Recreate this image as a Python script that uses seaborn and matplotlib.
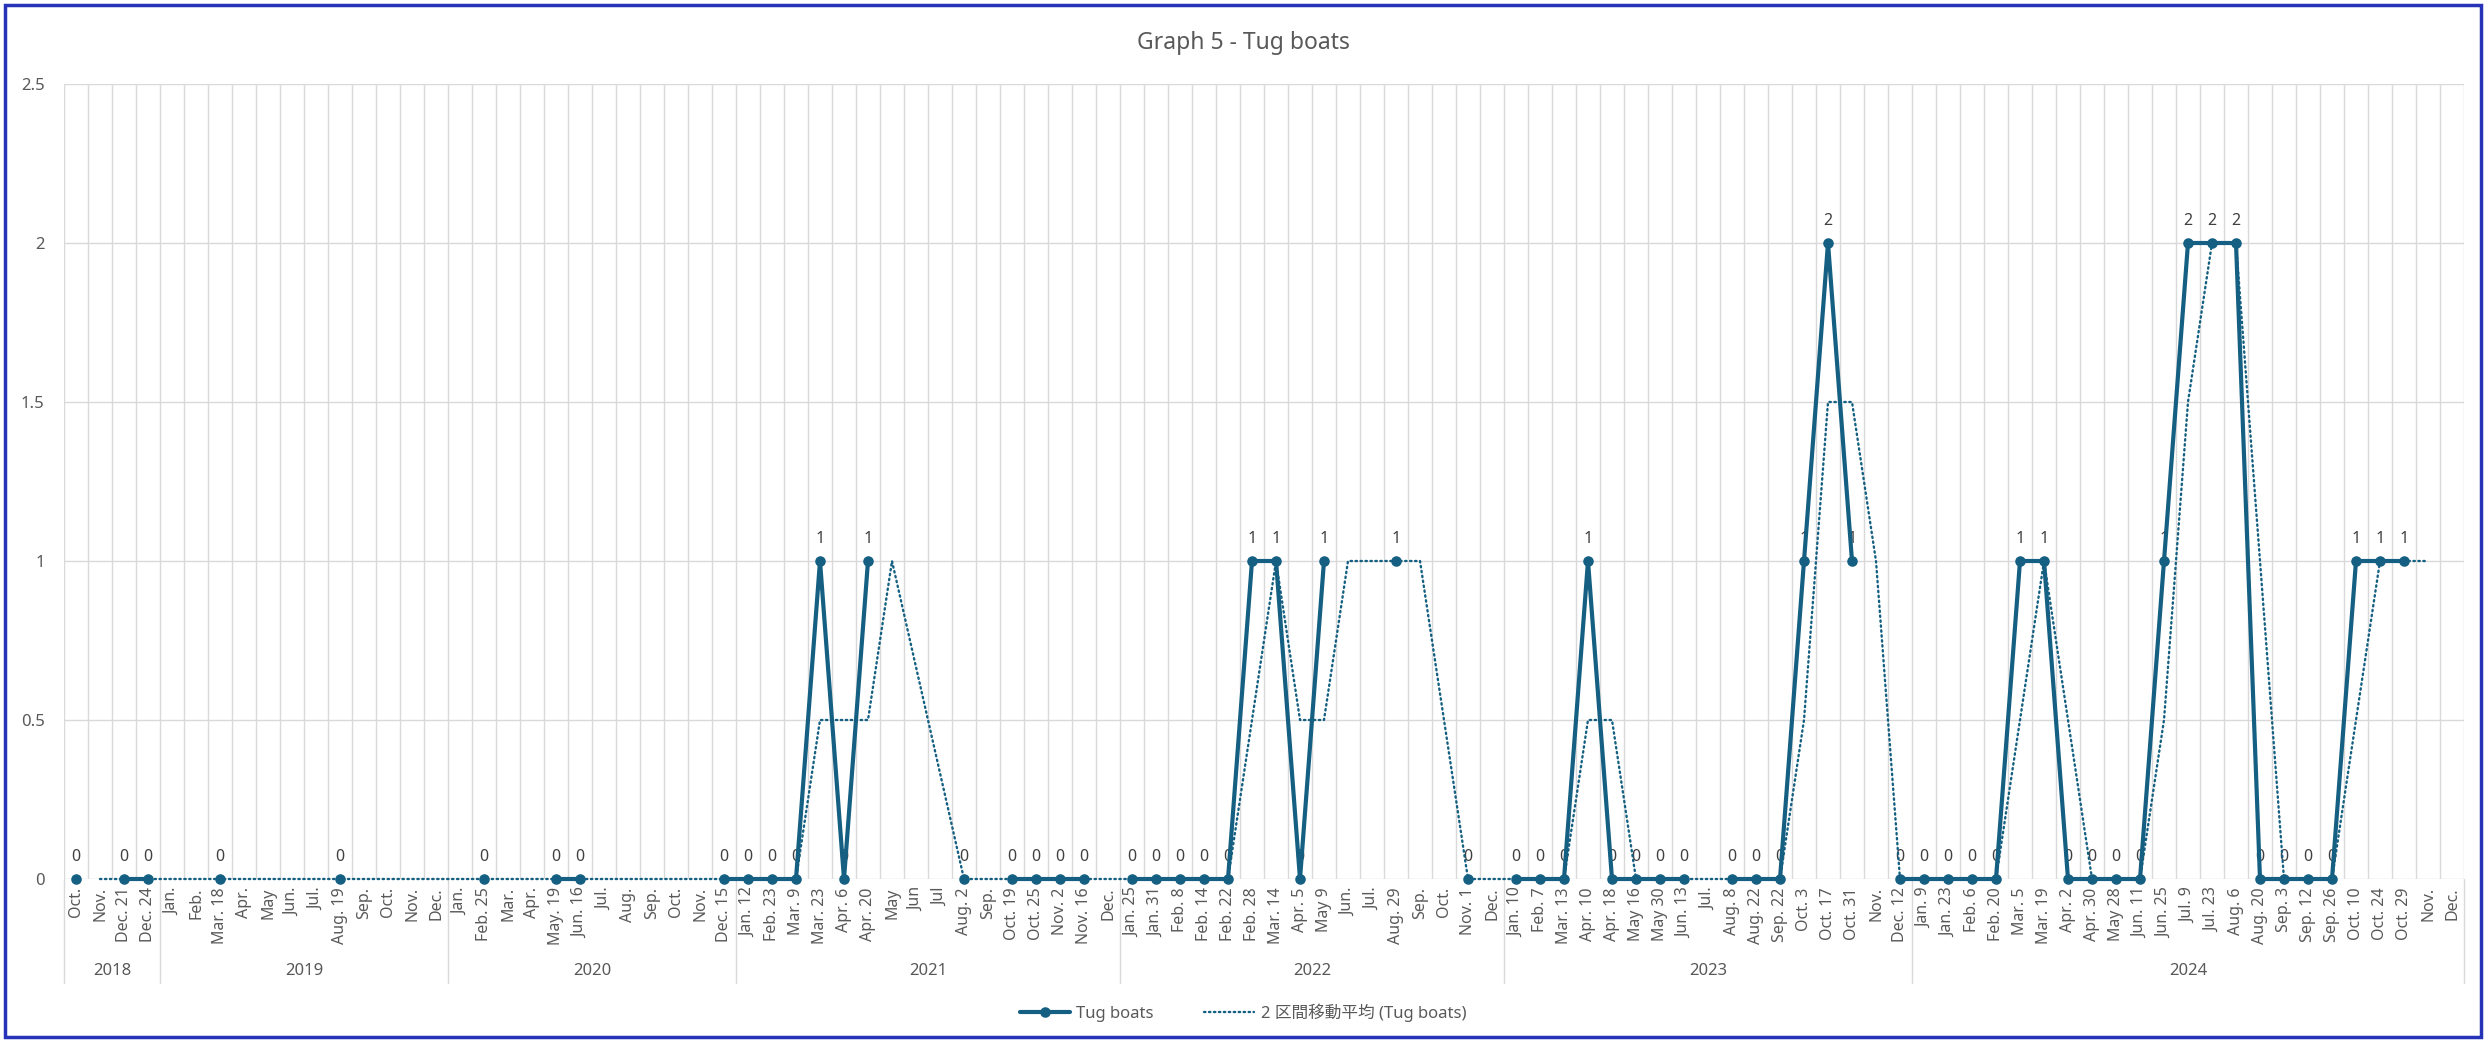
import numpy as np
import pandas as pd
import matplotlib
matplotlib.use("Agg")
import matplotlib.pyplot as plt
import matplotlib.transforms as mtransforms
from matplotlib.lines import Line2D
from matplotlib.patches import Rectangle
import seaborn as sns

# category labels (Excel category axis, inner level)
tick_labels = [
    # 2018
    "Oct.", "Nov.", "Dec. 21", "Dec. 24",
    # 2019
    "Jan.", "Feb.", "Mar. 18", "Apr.", "May", "Jun.", "Jul.", "Aug. 19", "Sep.", "Oct.", "Nov.", "Dec.",
    # 2020
    "Jan.", "Feb. 25", "Mar.", "Apr.", "May. 19", "Jun. 16", "Jul.", "Aug.", "Sep.", "Oct.", "Nov.", "Dec. 15",
    # 2021
    "Jan. 12", "Feb. 23", "Mar. 9", "Mar. 23", "Apr. 6", "Apr. 20", "May", "Jun", "Jul", "Aug. 2", "Sep.",
    "Oct. 19", "Oct. 25", "Nov. 2", "Nov. 16", "Dec.",
    # 2022
    "Jan. 25", "Jan. 31", "Feb. 8", "Feb. 14", "Feb. 22", "Feb. 28", "Mar. 14", "Apr. 5", "May 9", "Jun.",
    "Jul.", "Aug. 29", "Sep.", "Oct.", "Nov. 1", "Dec.",
    # 2023
    "Jan. 10", "Feb. 7", "Mar. 13", "Apr. 10", "Apr. 18", "May 16", "May 30", "Jun. 13", "Jul.", "Aug. 8",
    "Aug. 22", "Sep. 22", "Oct. 3", "Oct. 17", "Oct. 31", "Nov.", "Dec. 12",
    # 2024
    "Jan. 9", "Jan. 23", "Feb. 6", "Feb. 20", "Mar. 5", "Mar. 19", "Apr. 2", "Apr. 30", "May 28", "Jun. 11",
    "Jun. 25", "Jul. 9", "Jul. 23", "Aug. 6", "Aug. 20", "Sep. 3", "Sep. 12", "Sep. 26", "Oct. 10", "Oct. 24",
    "Oct. 29", "Nov.", "Dec.",
]

N = None
tug_boats = [
    # 2018
    0, N, 0, 0,
    # 2019
    N, N, 0, N, N, N, N, 0, N, N, N, N,
    # 2020
    N, 0, N, N, 0, 0, N, N, N, N, N, 0,
    # 2021
    0, 0, 0, 1, 0, 1, N, N, N, 0, N, 0, 0, 0, 0, N,
    # 2022
    0, 0, 0, 0, 0, 1, 1, 0, 1, N, N, 1, N, N, 0, N,
    # 2023
    0, 0, 0, 1, 0, 0, 0, 0, N, 0, 0, 0, 1, 2, 1, N, 0,
    # 2024
    0, 0, 0, 0, 1, 1, 0, 0, 0, 0, 1, 2, 2, 2, 0, 0, 0, 0, 1, 1, 1, N, N,
]

years = ["2018", "2019", "2020", "2021", "2022", "2023", "2024"]
year_counts = [4, 12, 12, 16, 16, 17, 23]

color = "#156082"
grey_text = "#595959"
grid_c = "#d9d9d9"

vals = np.array([np.nan if v is None else v for v in tug_boats], dtype=float)
pos = np.arange(len(vals))

# solid series, broken where data is missing
seg = np.cumsum(np.isnan(vals))
df = pd.DataFrame({"pos": pos, "value": vals, "seg": seg})
df_main = df.dropna(subset=["value"])

# 2-period moving average trendline (Excel style: blanks ignored, line spans gaps)
ma = [np.nan]
for i in range(1, len(vals)):
    pair = vals[i - 1:i + 1]
    ma.append(np.nanmean(pair) if np.any(~np.isnan(pair)) else np.nan)
df["ma"] = ma
df_ma = df.dropna(subset=["ma"])

sns.set_theme(style="white")
plt.rcParams["font.family"] = ["Noto Sans", "Noto Sans CJK JP", "DejaVu Sans"]

W, H = 2486, 1041
fig = plt.figure(figsize=(W / 100, H / 100), dpi=100, facecolor="white")
fig.patches.append(Rectangle((5 / W, 4 / H), 1 - 10 / W, 1 - 9 / H, transform=fig.transFigure,
                             fill=False, edgecolor="#2633b8", lw=2.5, zorder=10))
ax = fig.add_axes([64 / W, 1 - 879 / H, (2464 - 64) / W, (879 - 84) / H])

sns.lineplot(data=df_ma, x="pos", y="ma", estimator=None, color=color, lw=1.7,
             linestyle=(0, (0.6, 1.5)), dash_capstyle="round", clip_on=False, ax=ax, zorder=3)
sns.lineplot(data=df_main, x="pos", y="value", units="seg", estimator=None, color=color, lw=3.0,
             marker="o", markersize=7.6, markeredgewidth=0, clip_on=False, ax=ax, zorder=4)

for p, v in zip(df_main["pos"], df_main["value"]):
    ax.annotate(f"{v:g}", (p, v), xytext=(0, 10), textcoords="offset points", ha="center",
                va="bottom", fontsize=11.5, color="#404040", zorder=2)

ax.set_xlim(-0.5, len(vals) - 0.5)
ax.set_ylim(0, 2.5)
ax.set_yticks([0, 0.5, 1, 1.5, 2, 2.5])
ax.set_yticklabels(["0", "0.5", "1", "1.5", "2", "2.5"])
ax.set_xticks(pos)
ax.set_xticklabels(tick_labels, rotation=90, fontsize=11.5, color=grey_text)
ax.set_xticks(np.arange(-0.5, len(vals), 1), minor=True)
ax.tick_params(axis="y", labelsize=12, labelcolor=grey_text, length=0, pad=14)
ax.tick_params(axis="x", which="both", length=0, pad=6)
ax.grid(axis="y", which="major", color=grid_c, lw=1.0)
ax.grid(axis="x", which="minor", color=grid_c, lw=1.0)
ax.grid(axis="x", which="major", visible=False)
for s in ax.spines.values():
    s.set_visible(False)
ax.set_xlabel("")
ax.set_ylabel("")

# outer category level: years
trans = mtransforms.blended_transform_factory(ax.transData, ax.transAxes)
bounds = np.concatenate([[0], np.cumsum(year_counts)]) - 0.5
for b in bounds:
    ax.plot([b, b], [0, -(983 - 879) / (879 - 84)], transform=trans, color=grid_c, lw=1.0, clip_on=False)
for y, lo, hi in zip(years, bounds[:-1], bounds[1:]):
    ax.text((lo + hi) / 2, -(971 - 879) / (879 - 84), y, transform=trans, ha="center", va="center",
            fontsize=12, color=grey_text)

fig.text(0.5, 1 - 43 / H, "Graph 5 - Tug boats", ha="center", va="center", fontsize=16.5, color=grey_text)

handles = [
    Line2D([], [], color=color, lw=3.0, marker="o", markersize=7.6, markeredgewidth=0),
    Line2D([], [], color=color, lw=1.7, linestyle=(0, (0.6, 1.5)), dash_capstyle="round"),
]
fig.legend(handles, ["Tug boats", "2 区間移動平均 (Tug boats)"], loc="center",
           bbox_to_anchor=(0.5, 1 - 1013 / H), ncol=2, frameon=False, fontsize=12,
           labelcolor=grey_text, handlelength=3, columnspacing=3, handletextpad=0.4)

fig.savefig("out.png", dpi=100, facecolor=fig.get_facecolor())
